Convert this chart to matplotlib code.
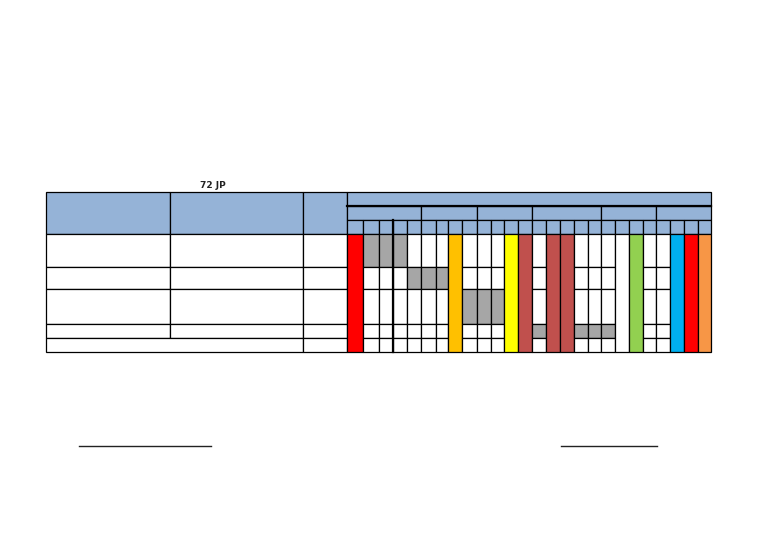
import matplotlib
matplotlib.use("Agg")
import matplotlib.pyplot as plt
from matplotlib.patches import Rectangle

# ---------------- data ----------------
title = "72 JP"
weeks_per_month = [5, 4, 4, 5, 4, 4]
n_tasks = 5
# gray schedule bars: task row -> week column indices
task_weeks = [[1, 2, 3], [4, 5, 6], [8, 9, 10], [13, 16, 17, 18], []]
# full-height coloured milestone / holiday columns
milestone_cols = [0, 7, 11, 12, 14, 15, 19, 20, 23, 24, 25]
milestone_colors = ["#FF0000", "#FFC000", "#FFFF00", "#C0504D", "#C0504D", "#C0504D",
                    "#FFFFFF", "#92D050", "#00B0F0", "#FF0000", "#F79646"]

# ---------------- layout (pixels) ----------------
W, H = 768, 543
left_x = [46, 170, 303, 347]
week_w = [16, 16, 14, 14, 14, 15, 12, 14, 15, 14, 13, 14, 14,
          14, 14, 14, 14, 13, 14, 14, 14, 13, 14, 14, 14, 13]
head_y = [192, 206, 220, 234]
row_h = [33, 22, 35, 14, 14]
HEAD = "#95B3D7"
GRAY = "#A6A6A6"
LW = 0.9

col_x = [left_x[-1]]
for w in week_w:
    col_x.append(col_x[-1] + w)
row_y = [head_y[-1]]
for h in row_h:
    row_y.append(row_y[-1] + h)

fig = plt.figure(figsize=(W / 100, H / 100), dpi=100)
ax = fig.add_axes([0, 0, 1, 1])
ax.set_xlim(0, W)
ax.set_ylim(H, 0)
ax.axis("off")


def cell(x0, x1, y0, y1, fc="white", lw=LW, z=2):
    ax.add_patch(Rectangle((x0, y0), x1 - x0, y1 - y0, facecolor=fc,
                           edgecolor="black", linewidth=lw, zorder=z))


# header: left merged cells
for i in range(3):
    cell(left_x[i], left_x[i + 1], head_y[0], head_y[3], HEAD)
# header top band
cell(col_x[0], col_x[-1], head_y[0], head_y[1], HEAD)
# month band
c = 0
for n in weeks_per_month:
    cell(col_x[c], col_x[c + n], head_y[1], head_y[2], HEAD)
    c += n
# week band
for k in range(len(week_w)):
    cell(col_x[k], col_x[k + 1], head_y[2], head_y[3], HEAD)
# thick separator under top band
ax.plot([col_x[0], col_x[-1]], [head_y[1], head_y[1]], color="black", lw=1.6, zorder=4)

# body left columns
for r in range(n_tasks):
    y0, y1 = row_y[r], row_y[r + 1]
    if r < n_tasks - 1:
        cell(left_x[0], left_x[1], y0, y1)
        cell(left_x[1], left_x[2], y0, y1)
    else:
        cell(left_x[0], left_x[2], y0, y1)
    cell(left_x[2], left_x[3], y0, y1)

# body week cells
for k in range(len(week_w)):
    if k in milestone_cols:
        fc = milestone_colors[milestone_cols.index(k)]
        cell(col_x[k], col_x[k + 1], row_y[0], row_y[-1], fc)
        continue
    for r in range(n_tasks):
        fc = GRAY if k in task_weeks[r] else "white"
        cell(col_x[k], col_x[k + 1], row_y[r], row_y[r + 1], fc)

# thicker vertical divider
ax.plot([col_x[3], col_x[3]], [head_y[2], row_y[-1]], color="black", lw=1.6, zorder=4)

# title
ax.text(213, 185, title, ha="center", va="center", fontsize=6.5,
        fontweight="bold", family=["DejaVu Sans"], color="#222222")

# signature lines
ax.plot([79, 211], [446, 446], color="#222222", lw=1.0)
ax.plot([561, 657], [446, 446], color="#222222", lw=1.0)

fig.savefig("out.png", dpi=100)
